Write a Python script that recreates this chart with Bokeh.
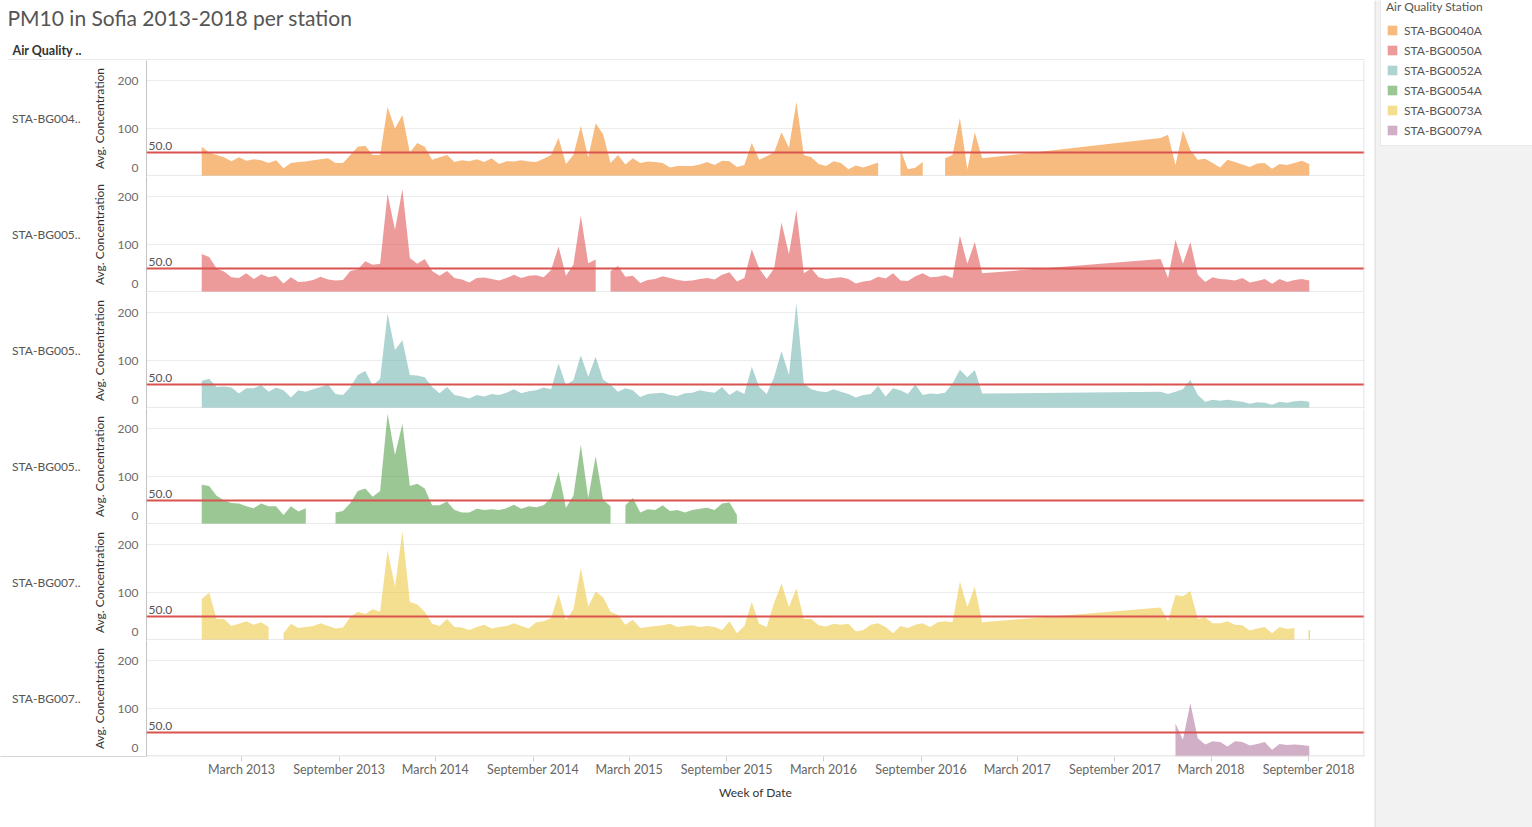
import numpy as np
from bokeh.plotting import figure
from bokeh.layouts import column, row
from bokeh.models import (Range1d, FixedTicker, DatetimeTickFormatter, Span, Label,
                          BoxAnnotation, Legend, LegendItem, LinearAxis)
from bokeh.embed import file_html
from bokeh.resources import INLINE

GAP = float("nan")   # break in the record: the area is cut there
# None = no row for that fortnight: the area is carried straight across it

TITLE = "PM10 in Sofia 2013-2018 per station"
ROW_HEADER = "Air Quality .."
LEGEND_TITLE = "Air Quality Station"
Y_TITLE = "Avg. Concentration"
X_TITLE = "Week of Date"

STATIONS = ["STA-BG0040A", "STA-BG0050A", "STA-BG0052A",
            "STA-BG0054A", "STA-BG0073A", "STA-BG0079A"]
COLORS = ["#f28e2b", "#e15759", "#76b7b2", "#59a14f", "#edc948", "#b07aa1"]

FIRST_WEEK = "2012-12-16"
STEP_DAYS = 14
LIMIT = 50.0
Y_TICKS = [0, 100, 200]
X_TICKS = ["2013-03-01", "2013-09-01", "2014-03-01", "2014-09-01", "2015-03-01",
           "2015-09-01", "2016-03-01", "2016-09-01", "2017-03-01", "2017-09-01",
           "2018-03-01", "2018-09-01"]
X_START, X_END = "2012-09-03", "2018-12-15"
Y_MAX = 241.7

BG0040A = [62, 50, 45, 40, 32, 40, 33, 36, 34, 28,
           34, 17, 28, 30, 31, 34, 36, 38, 28, 28,
           45, 62, 64, 45, 45, 145, 100, 128, 50, 70,
           62, 35, 40, 45, 30, 34, 32, 36, 30, 38,
           26, 32, 31, 34, 31, 30, 37, 45, 81, 26,
           45, 105, 40, 111, 88, 28, 45, 25, 38, 28,
           31, 30, 28, 19, 22, 22, 22, 25, 30, 24,
           33, 32, 20, 24, 70, 35, 42, 50, 92, 60,
           156, 45, 40, 26, 22, 32, 28, 15, 23, 19,
           24, 29, GAP, GAP, 56, 15, 18, 30, GAP, GAP,
           38, 45, 122, 15, 92, 38] + [None] * 23 + [
           80, 87, 24, 96, 55, 35, 37, 28, 19, 35, 30,
           25, 20, 27, 28, 16, 26, 24, 28, 33, 26]

BG0050A = [80, 74, 50, 44, 32, 30, 40, 28, 38, 32,
           35, 19, 32, 22, 23, 26, 33, 27, 25, 26,
           45, 48, 65, 58, 60, 206, 131, 215, 72, 60,
           70, 45, 35, 45, 30, 27, 21, 30, 31, 28,
           25, 30, 37, 30, 35, 36, 32, 47, 96, 35,
           58, 160, 61, 69, GAP, 45, 55, 33, 35, 20,
           26, 28, 34, 30, 26, 24, 25, 28, 30, 27,
           37, 42, 23, 30, 90, 50, 28, 50, 146, 80,
           172, 40, 50, 32, 28, 30, 32, 28, 19, 23,
           25, 33, 29, 40, 25, 24, 34, 40, 32, 33,
           36, 30, 118, 60, 105, 40] + [None] * 23 + [
           70, 30, 110, 60, 105, 37, 22, 32, 28, 27, 25,
           30, 21, 24, 28, 18, 28, 22, 26, 28, 25]

BG0052A = [58, 62, 45, 46, 44, 31, 42, 42, 49, 35,
           44, 38, 23, 38, 35, 40, 45, 50, 30, 28,
           45, 70, 78, 48, 62, 198, 122, 142, 70, 69,
           65, 45, 32, 45, 28, 25, 21, 28, 25, 30,
           28, 33, 40, 32, 36, 38, 44, 40, 94, 49,
           59, 111, 66, 108, 60, 50, 35, 42, 38, 24,
           30, 32, 33, 28, 26, 32, 33, 38, 35, 33,
           45, 28, 38, 30, 87, 45, 30, 65, 120, 70,
           220, 52, 40, 36, 34, 40, 35, 30, 23, 28,
           30, 47, 25, 42, 38, 30, 50, 28, 31, 30,
           33, 52, 81, 65, 80, 31] + [None] * 23 + [
           35, 30, 35, 40, 60, 28, 14, 18, 16, 18, 16,
           14, 10, 13, 12, 8, 14, 12, 15, 16, 14]

BG0054A = [83, 80, 60, 50, 45, 44, 38, 34, 44, 38,
           38, 20, 38, 27, 34, GAP, GAP, GAP, 25, 28,
           45, 70, 75, 58, 70, 231, 145, 210, 80, 85,
           75, 40, 40, 48, 30, 25, 25, 33, 30, 32,
           30, 34, 41, 33, 38, 36, 40, 55, 110, 35,
           60, 166, 55, 142, 51, 38, GAP, 40, 55, 25,
           32, 30, 40, 28, 30, 25, 30, 33, 35, 30,
           44, 46, 20]

BG0073A = [86, 100, 45, 45, 30, 35, 40, 33, 38, 28,
           GAP, 15, 35, 26, 28, 30, 36, 30, 25, 27,
           49, 60, 55, 65, 60, 188, 113, 227, 80, 75,
           60, 35, 30, 45, 28, 27, 22, 28, 33, 25,
           28, 30, 36, 30, 25, 38, 40, 47, 97, 42,
           65, 151, 71, 102, 90, 60, 53, 33, 43, 26,
           28, 30, 32, 35, 28, 30, 32, 28, 30, 28,
           22, 40, 15, 30, 80, 35, 28, 78, 119, 70,
           109, 45, 45, 32, 29, 35, 33, 35, 19, 22,
           33, 36, 28, 15, 30, 26, 33, 36, 28, 38,
           40, 38, 123, 70, 112, 38] + [None] * 23 + [
           69, 40, 95, 92, 103, 45, 48, 36, 36, 40, 33,
           32, 21, 25, 28, 15, 28, 24, 26, GAP, 22]

BG0079A = [None] * 131 + [69, 35, 111, 38, 25, 32, 30, 21, 32, 30,
                          23, 26, 30, 14, 26, 24, 25, 24, 22]

SERIES = [BG0040A, BG0050A, BG0052A, BG0054A, BG0073A, BG0079A]

# ---------------------------------------------------------------- styling
FONT = "Lato"
W_MAIN, W_SIDE = 1374, 158
LEFT, RIGHT = 146, 10
ROW_H, HEAD_H, AXIS_H, FOOT_H = 116, 60, 65, 6
TOTAL_H = HEAD_H + len(STATIONS) * ROW_H + AXIS_H + FOOT_H
FRAME_W = W_MAIN - LEFT - RIGHT
PX = Y_MAX / ROW_H            # data units per pixel in a row
SEP = "#d6d6d6"
PANE = "#f2f2f2"
ZERO_AT = 9 * PX              # Tableau lifts the bottom "0" label inside the pane
SEP_AT = 0.5 * PX             # row separator, drawn as a long tick through the header column
ROW_MID = Y_MAX / 2


def ms(d):
    return float(np.datetime64(d, "ms").astype("int64"))


def runs(vals):
    out, cur = [], []
    for i, v in enumerate(vals):
        if v is None:
            continue
        if v != v:
            if cur:
                out.append(cur)
            cur = []
            continue
        cur.append((i, v))
    if cur:
        out.append(cur)
    return out


def week(i):
    return np.datetime64(FIRST_WEEK, "ms") + np.timedelta64(STEP_DAYS * i, "D")


def box(p, left, right, bottom, top, color):
    p.add_layout(BoxAnnotation(left=left, right=right, bottom=bottom, top=top,
                               left_units="screen", right_units="screen",
                               bottom_units="screen", top_units="screen",
                               fill_color=color, fill_alpha=1, line_color=None))


def bare(fig):
    fig.outline_line_color = None
    fig.xgrid.visible = False
    fig.ygrid.visible = False
    if "frame_align" in fig.properties():
        fig.frame_align = False


def plain(width, height, **kw):
    f = figure(width=width, height=height, x_range=Range1d(0, 1), y_range=Range1d(0, 1),
               x_axis_location=None, y_axis_location=None, toolbar_location=None,
               output_backend="svg", min_border_left=0, min_border_right=0,
               min_border_top=0, min_border_bottom=0, **kw)
    bare(f)
    return f


# ---------------------------------------------------------------- header
head = plain(W_MAIN, HEAD_H)
head.add_layout(Label(x=7, x_units="screen", y=HEAD_H - 17, y_units="screen", text=TITLE,
                      text_baseline="middle", text_font=FONT, text_font_size="21px",
                      text_color="#555555"))
head.add_layout(Label(x=12, x_units="screen", y=HEAD_H - 50, y_units="screen",
                      text=ROW_HEADER, text_baseline="middle", text_font=FONT,
                      text_font_size="12.5px", text_font_style="bold", text_color="#333333"))
box(head, 7, W_MAIN - RIGHT, 0, 1, SEP)

xr = Range1d(ms(X_START), ms(X_END))
yr = Range1d(0, Y_MAX)

figs = [head]
first_runs = []
n = len(STATIONS)
for k, (name, color, vals) in enumerate(zip(STATIONS, COLORS, SERIES)):
    last = k == n - 1
    bottom = AXIS_H if last else 0
    p = figure(width=W_MAIN, height=ROW_H + bottom, x_range=xr, y_range=yr,
               x_axis_type="datetime", x_axis_location="below" if last else None,
               toolbar_location=None, output_backend="svg",
               min_border_left=LEFT, min_border_right=RIGHT,
               min_border_top=0, min_border_bottom=bottom)
    p.outline_line_color = None
    p.background_fill_color = "white"
    p.border_fill_color = "white"
    p.xgrid.visible = False
    p.ygrid.grid_line_color = "#ececec"
    p.ygrid.ticker = FixedTicker(ticks=[t for t in Y_TICKS if t > 0])

    # value axis; its long minor tick draws the row separator through the header column
    ya = p.yaxis[0]
    ya.ticker = FixedTicker(ticks=[ZERO_AT] + [t for t in Y_TICKS if t > 0],
                            minor_ticks=[SEP_AT])
    ya.major_label_overrides = {ZERO_AT: str(Y_TICKS[0])}
    ya.axis_label = Y_TITLE
    ya.axis_label_text_font = FONT
    ya.axis_label_text_font_size = "12px"
    ya.axis_label_text_font_style = "normal"
    ya.axis_label_text_color = "#333333"
    ya.axis_label_standoff = 8
    ya.major_label_text_font = FONT
    ya.major_label_text_font_size = "12px"
    ya.major_label_text_color = "#6b6b6b"
    ya.major_tick_line_color = None
    ya.major_tick_out = 0
    ya.major_tick_in = 0
    ya.minor_tick_line_color = SEP
    ya.minor_tick_out = LEFT
    ya.minor_tick_in = 0
    ya.major_label_standoff = 8 - LEFT
    ya.axis_line_color = "#c4c4c4"

    # row header axis (station name)
    ra = LinearAxis(ticker=FixedTicker(ticks=[ROW_MID], minor_ticks=[]),
                    major_label_overrides={ROW_MID: name[:9] + ".."})
    ra.axis_line_color = None
    ra.major_tick_line_color = None
    ra.minor_tick_line_color = None
    ra.major_tick_out = 0
    ra.major_label_standoff = 8
    ra.major_label_text_font = FONT
    ra.major_label_text_font_size = "12px"
    ra.major_label_text_color = "#555555"
    p.add_layout(ra, "left")

    seg_list = runs(vals)
    for j, seg in enumerate(seg_list):
        xs = np.array([week(i) for i, _ in seg], dtype="datetime64[ms]")
        ys = [v for _, v in seg]
        if j == 0:
            first_runs.append((xs, ys))
        if len(seg) > 1:
            p.varea(x=xs, y1=0, y2=ys, fill_color=color, fill_alpha=0.6)
        else:
            p.segment(x0=xs, y0=[0], x1=xs, y1=ys, line_color=color, line_alpha=0.7,
                      line_width=1.5)

    p.add_layout(Span(location=LIMIT, dimension="width", line_color="#d9534f", line_width=2))
    p.add_layout(Label(x=2, x_units="screen", y=LIMIT, y_offset=3, text=f"{LIMIT:.1f}",
                       text_baseline="bottom", text_font=FONT, text_font_size="12px",
                       text_color="#555555"))

    box(p, 0, FRAME_W, 0, 1, SEP)                               # row separator
    box(p, FRAME_W - 1, FRAME_W, 0, ROW_H, "#dcdcdc")          # right edge

    if last:
        xa = p.xaxis[0]
        xa.ticker = FixedTicker(ticks=[ms(d) for d in X_TICKS])
        xa.formatter = DatetimeTickFormatter(days="%B %Y", months="%B %Y", years="%B %Y")
        xa.axis_label = X_TITLE
        xa.axis_label_text_font = FONT
        xa.axis_label_text_font_size = "12px"
        xa.axis_label_text_font_style = "normal"
        xa.axis_label_text_color = "#333333"
        xa.axis_label_standoff = 5
        xa.axis_line_color = None
        xa.major_tick_line_color = "#d0d0d0"
        xa.major_tick_out = 5
        xa.major_tick_in = 0
        xa.minor_tick_line_color = None
        xa.major_label_standoff = 0
        xa.major_label_text_font = FONT
        xa.major_label_text_font_size = "12.5px"
        xa.major_label_text_color = "#666666"

    figs.append(p)

# ---------------------------------------------------------------- footer strip
foot = plain(W_MAIN, FOOT_H)
foot.background_fill_color = PANE
foot.border_fill_color = PANE
box(foot, 0, W_MAIN, FOOT_H - 1, FOOT_H, SEP)
figs.append(foot)

# ---------------------------------------------------------------- legend panel
lg = plain(W_SIDE, TOTAL_H)
lg.background_fill_color = PANE
lg.border_fill_color = PANE
box(lg, 0, 1, 0, TOTAL_H, SEP)
items = []
for name, color, (xs, ys) in zip(STATIONS, COLORS, first_runs):
    # the station's own data; it lies outside this panel's ranges, only its key shows
    r = lg.varea(x=xs, y1=0, y2=ys, fill_color=color, fill_alpha=0.6)
    items.append(LegendItem(label=name, renderers=[r]))
leg = Legend(items=items, location=(6, TOTAL_H - 146), title=LEGEND_TITLE)
leg.margin = 0
leg.padding = 5
leg.spacing = 0
leg.label_height = 20
leg.glyph_height = 12
leg.glyph_width = 12
leg.label_standoff = 6
leg.label_width = 124
leg.label_text_font = FONT
leg.label_text_font_size = "12px"
leg.label_text_color = "#555555"
leg.title_text_font = FONT
leg.title_text_font_size = "12px"
leg.title_text_font_style = "normal"
leg.title_text_color = "#555555"
leg.title_standoff = 6
leg.border_line_color = "#d6d6d6"
leg.background_fill_color = "white"
leg.background_fill_alpha = 1
lg.add_layout(leg)

page = row(column(*figs), lg)
open("out.html", "w").write(file_html(page, INLINE, title=TITLE))
